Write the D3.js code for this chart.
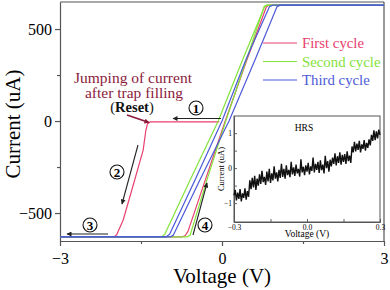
<!DOCTYPE html>
<html>
<head>
<meta charset="utf-8">
<script src="https://cdnjs.cloudflare.com/ajax/libs/d3/7.8.5/d3.min.js"></script>
<style>
  body { margin: 0; background: #fff; }
  svg text { font-family: "Liberation Serif", "Times New Roman", Times, "DejaVu Serif", serif; }
</style>
</head>
<body>
<div id="chart"></div>
<script>
// main axis ticks
const xTicks = [-3, 0, 3];
const xMinor = [-1.5, 1.5];
const yTicks = [-500, 0, 500];
const yMinor = [-250, 250];

// I-V sweeps, [voltage (V), current (uA)]
const firstReset = [[-0.05, -5], [-1.33, -5], [-1.38, -15], [-1.41, -50], [-1.46, -158], [-1.67, -375], [-1.83, -538], [-1.95, -618], [-2.0, -630], [-3, -630]];
const firstSet = [[-3, -630], [-0.74, -630], [-0.68, -622], [-0.63, -600], [-0.31, -321], [0.06, 0], [0.46, 332], [0.82, 620], [0.87, 630], [3, 630]];
const secondDown = [[3, 630], [0.84, 630], [0.79, 622], [0.38, 332], [-0.07, 0], [-0.59, -321], [-1.06, -615], [-1.12, -630], [-3, -630]];
const secondUp = [[-3, -630], [-0.65, -630], [-0.59, -620], [-0.28, -321], [0.07, 0], [0.45, 332], [0.78, 622], [0.83, 630], [3, 630]];
const thirdDown = [[3, 630], [0.94, 630], [0.88, 622], [0.44, 332], [0, 0], [-0.5, -321], [-0.97, -615], [-1.04, -630], [-3, -630]];
const thirdUp = [[-3, -630], [-0.96, -630], [-0.90, -620], [-0.41, -321], [0.13, 0], [0.61, 332], [1.02, 622], [1.08, 630], [3, 630]];

const cycleNames = ["First cycle", "Second cycle", "Third cycle"];
const cycleColors = ["#e8406e", "#84e23c", "#4c5ad8"];

// inset (HRS) sweep
const hrsTicksX = [-0.3, 0.0, 0.3];
const hrsMinorX = [-0.15, 0.15];
const hrsTicksY = [-1, 0, 1];
const hrsMinorY = [-0.5, 0.5];
const hrsVoltage = [
  -0.300, -0.295, -0.290, -0.285, -0.280, -0.275, -0.270, -0.265, -0.260, -0.255,
  -0.250, -0.245, -0.240, -0.235, -0.230, -0.225, -0.220, -0.215, -0.210, -0.205,
  -0.200, -0.195, -0.190, -0.185, -0.180, -0.175, -0.170, -0.165, -0.160, -0.155,
  -0.150, -0.145, -0.140, -0.135, -0.130, -0.125, -0.120, -0.115, -0.110, -0.105,
  -0.100, -0.095, -0.090, -0.085, -0.080, -0.075, -0.070, -0.065, -0.060, -0.055,
  -0.050, -0.045, -0.040, -0.035, -0.030, -0.025, -0.020, -0.015, -0.010, -0.005,
  0.000, 0.005, 0.010, 0.015, 0.020, 0.025, 0.030, 0.035, 0.040, 0.045,
  0.050, 0.055, 0.060, 0.065, 0.070, 0.075, 0.080, 0.085, 0.090, 0.095,
  0.100, 0.105, 0.110, 0.115, 0.120, 0.125, 0.130, 0.135, 0.140, 0.145,
  0.150, 0.155, 0.160, 0.165, 0.170, 0.175, 0.180, 0.185, 0.190, 0.195,
  0.200, 0.205, 0.210, 0.215, 0.220, 0.225, 0.230, 0.235, 0.240, 0.245,
  0.250, 0.255, 0.260, 0.265, 0.270, 0.275, 0.280, 0.285, 0.290, 0.295,
  0.300];
const hrsCurrent = [
  -0.78, -0.62, -0.92, -0.70, -0.88, -0.60, -0.95, -0.72, -0.85, -0.58,
  -0.90, -0.66, -0.82, -0.35, -0.60, -0.28, -0.55, -0.22, -0.62, -0.30,
  -0.50, -0.18, -0.45, -0.08, -0.40, -0.25, -0.48, -0.10, -0.38, -0.02,
  -0.42, -0.15, -0.35, 0.05, -0.30, -0.12, -0.38, -0.05, -0.28, 0.12,
  -0.25, -0.02, -0.30, 0.08, -0.20, -0.05, -0.26, 0.18, -0.18, 0.02,
  -0.22, 0.10, -0.15, -0.02, -0.24, 0.25, -0.12, 0.04, -0.20, 0.08,
  -0.10, 0.15, -0.18, 0.05, -0.08, 0.30, -0.12, 0.12, -0.05, 0.18,
  -0.14, 0.22, -0.06, 0.10, -0.15, 0.35, 0.00, 0.20, -0.10, 0.24,
  0.05, 0.30, 0.12, 0.42, 0.08, 0.34, 0.15, 0.45, 0.10, 0.38,
  0.18, 0.40, 0.12, 0.48, 0.20, 0.36, 0.15, 0.62, 0.45, 0.75,
  0.48, 0.70, 0.52, 0.78, 0.45, 0.68, 0.55, 0.80, 0.50, 0.72,
  0.58, 0.82, 0.65, 0.95, 0.78, 1.08, 0.80, 1.05, 0.85, 1.10,
  0.95];

const width = 390, height = 290;
const axisColor = "#555";
const serif = "'Liberation Serif', 'Times New Roman', Times, 'DejaVu Serif', serif";

const svg = d3.select("#chart").append("svg")
    .attr("width", width)
    .attr("height", height)
    .style("display", "block");

const x = d3.scaleLinear().domain([-3, 3]).range([60, 384]);
const y = d3.scaleLinear().domain([-652, 647]).range([241, 2]);

// arrow heads
const defs = svg.append("defs");
function addMarker(id, fill) {
    defs.append("marker")
        .attr("id", id)
        .attr("viewBox", "0 0 10 10")
        .attr("refX", 9).attr("refY", 5)
        .attr("markerWidth", 6).attr("markerHeight", 5)
        .attr("markerUnits", "userSpaceOnUse")
        .attr("orient", "auto")
        .append("path")
        .attr("d", "M0,0 L10,5 L0,10 Z")
        .attr("fill", fill);
}
addMarker("arrBlack", "#222");
addMarker("arrRed", "#8b1a3c");

// frame
svg.append("line").attr("x1", 60).attr("x2", 384).attr("y1", 2).attr("y2", 2)
    .attr("stroke", axisColor).attr("stroke-width", 1.2);
svg.append("line").attr("x1", 384).attr("x2", 384).attr("y1", 2).attr("y2", 241)
    .attr("stroke", axisColor).attr("stroke-width", 1.2);

function styleAxis(sel) {
    sel.attr("font-family", serif);
    sel.selectAll("path, line").attr("stroke", axisColor).attr("stroke-width", 1.2);
    sel.selectAll("text").attr("fill", "#000");
}

const xAxis = svg.append("g")
    .attr("transform", "translate(0,241)")
    .call(d3.axisBottom(x).tickValues(xTicks).tickSize(5).tickSizeOuter(0).tickFormat(d3.format("d")))
    .call(styleAxis);
xAxis.selectAll("text").attr("font-size", 16).attr("dy", "0.95em");
svg.append("g")
    .attr("transform", "translate(0,241)")
    .call(d3.axisBottom(x).tickValues(xMinor).tickSize(3).tickSizeOuter(0).tickFormat(""))
    .call(styleAxis)
    .select(".domain").remove();

const yAxis = svg.append("g")
    .attr("transform", "translate(60,0)")
    .call(d3.axisLeft(y).tickValues(yTicks).tickSize(5).tickSizeOuter(0).tickFormat(d3.format("d")))
    .call(styleAxis);
yAxis.selectAll("text").attr("font-size", 16).attr("x", -8);
svg.append("g")
    .attr("transform", "translate(60,0)")
    .call(d3.axisLeft(y).tickValues(yMinor).tickSize(3).tickSizeOuter(0).tickFormat(""))
    .call(styleAxis)
    .select(".domain").remove();

// axis titles
svg.append("text")
    .attr("x", 222).attr("y", 283)
    .attr("text-anchor", "middle")
    .attr("font-size", 21)
    .text("Voltage (V)");
svg.append("text")
    .attr("transform", "translate(20,124) rotate(-90)")
    .attr("text-anchor", "middle")
    .attr("font-size", 21)
    .text("Current (uA)");

// I-V curves
const line = d3.line()
    .x(d => x(d[0]))
    .y(d => y(d[1]));

const branches = [
    {data: firstReset, c: 0}, {data: firstSet, c: 0},
    {data: secondDown, c: 1}, {data: secondUp, c: 1},
    {data: thirdDown, c: 2}, {data: thirdUp, c: 2}
];
svg.append("g").selectAll("path")
    .data(branches)
    .join("path")
    .attr("d", d => line(d.data))
    .attr("fill", "none")
    .attr("stroke", d => cycleColors[d.c])
    .attr("stroke-width", 1.2)
    .attr("stroke-linejoin", "round");

// legend
const legend = svg.append("g").selectAll("g")
    .data(cycleNames)
    .join("g")
    .attr("transform", (d, i) => "translate(263," + (43 + i * 18.5) + ")");
legend.append("line")
    .attr("x1", 0).attr("x2", 34)
    .attr("stroke", (d, i) => cycleColors[i])
    .attr("stroke-width", 1.2);
legend.append("text")
    .attr("x", 39).attr("y", 5)
    .attr("font-size", 14.8)
    .attr("fill", (d, i) => cycleColors[i])
    .text(d => d);

// annotation
const annColor = "#8b1a3c";
svg.append("text").attr("x", 133).attr("y", 83)
    .attr("text-anchor", "middle").attr("font-size", 15.5).attr("fill", annColor)
    .text("Jumping of current");
svg.append("text").attr("x", 134).attr("y", 98)
    .attr("text-anchor", "middle").attr("font-size", 15.5).attr("fill", annColor)
    .text("after trap filling");
const reset = svg.append("text").attr("x", 132).attr("y", 112)
    .attr("text-anchor", "middle").attr("font-size", 14.5).attr("fill", "#111");
reset.append("tspan").text("(");
reset.append("tspan").attr("font-weight", "bold").text("Reset");
reset.append("tspan").text(")");
svg.append("line")
    .attr("x1", 127).attr("y1", 115).attr("x2", 149).attr("y2", 122.5)
    .attr("stroke", annColor).attr("stroke-width", 1.6)
    .attr("marker-end", "url(#arrRed)");

// sweep direction arrows with circled numbers
const steps = [
    {n: "1", cx: 196, cy: 108, a: [221, 118.5, 173, 118.5]},
    {n: "2", cx: 117, cy: 172, a: [138, 145, 122, 204]},
    {n: "3", cx: 90, cy: 225, a: [108, 234, 67, 234]},
    {n: "4", cx: 205, cy: 225, a: [193, 235, 207, 183]}
];
steps.forEach(s => {
    svg.append("line")
        .attr("x1", s.a[0]).attr("y1", s.a[1]).attr("x2", s.a[2]).attr("y2", s.a[3])
        .attr("stroke", "#222").attr("stroke-width", 1.1)
        .attr("marker-end", "url(#arrBlack)");
    svg.append("circle")
        .attr("cx", s.cx).attr("cy", s.cy).attr("r", 7)
        .attr("fill", "#fff").attr("stroke", "#111").attr("stroke-width", 1.1);
    svg.append("text")
        .attr("x", s.cx).attr("y", s.cy + 4.5)
        .attr("text-anchor", "middle")
        .attr("font-size", 13).attr("font-weight", "bold")
        .text(s.n);
});

// inset: HRS
const ix = d3.scaleLinear().domain([-0.3, 0.3]).range([234, 380]);
const iy = d3.scaleLinear().domain([-1.54, 1.49]).range([222, 116]);
const inset = svg.append("g");
inset.append("rect")
    .attr("x", 234).attr("y", 116).attr("width", 146).attr("height", 106)
    .attr("fill", "#fff").attr("stroke", axisColor).attr("stroke-width", 1);

function styleInset(sel) {
    sel.attr("font-family", serif);
    sel.selectAll("path, line").attr("stroke", axisColor).attr("stroke-width", 0.9);
    sel.selectAll("text").attr("fill", "#000").attr("font-size", 7.5);
}
inset.append("g")
    .attr("transform", "translate(0,222)")
    .call(d3.axisBottom(ix).tickValues(hrsTicksX).tickSize(-3).tickSizeOuter(0).tickFormat(d3.format(".1f")))
    .call(styleInset)
    .selectAll("text").attr("y", 2).attr("dy", "0.8em");
inset.append("g")
    .attr("transform", "translate(0,222)")
    .call(d3.axisBottom(ix).tickValues(hrsMinorX).tickSize(-3).tickSizeOuter(0).tickFormat(""))
    .call(styleInset);
inset.append("g")
    .attr("transform", "translate(234,0)")
    .call(d3.axisLeft(iy).tickValues(hrsTicksY).tickSize(-3).tickSizeOuter(0).tickFormat(d3.format("d")))
    .call(styleInset)
    .selectAll("text").attr("x", -2);
inset.append("g")
    .attr("transform", "translate(234,0)")
    .call(d3.axisLeft(iy).tickValues(hrsMinorY).tickSize(-3).tickSizeOuter(0).tickFormat(""))
    .call(styleInset);

const hrsLine = d3.line()
    .x((d, i) => ix(hrsVoltage[i]))
    .y(d => iy(d));
inset.append("path")
    .attr("d", hrsLine(hrsCurrent))
    .attr("fill", "none")
    .attr("stroke", "#111")
    .attr("stroke-width", 1.4)
    .attr("stroke-linejoin", "miter");

inset.append("text").attr("x", 304).attr("y", 131)
    .attr("text-anchor", "middle").attr("font-size", 9.5).text("HRS");
inset.append("text").attr("x", 307).attr("y", 237)
    .attr("text-anchor", "middle").attr("font-size", 9.5).text("Voltage (V)");
inset.append("text")
    .attr("transform", "translate(224,169) rotate(-90)")
    .attr("text-anchor", "middle").attr("font-size", 8.5).text("Current (uA)");
</script>
</body>
</html>
